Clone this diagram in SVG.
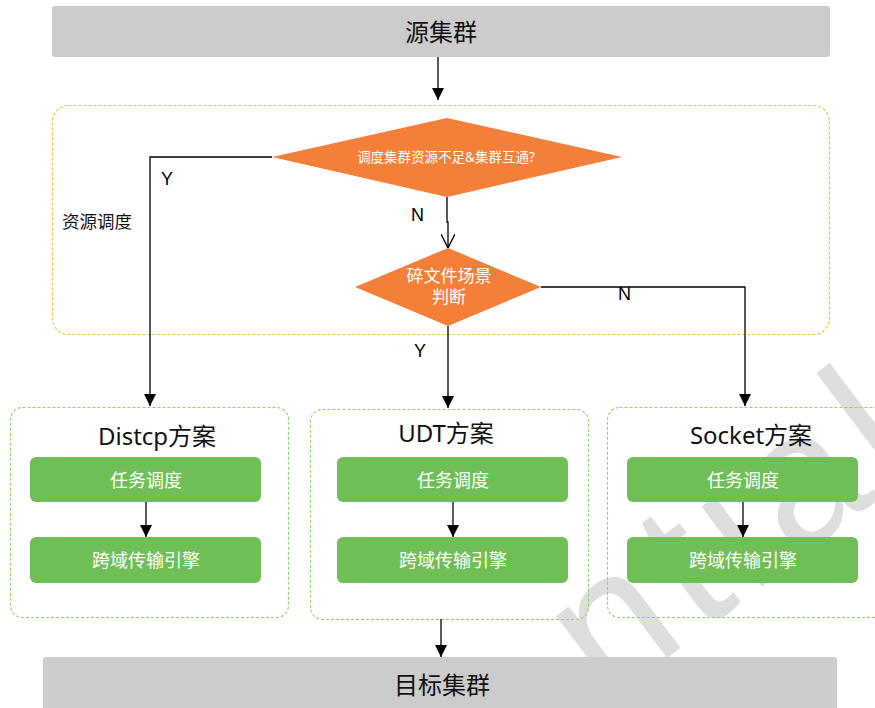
<svg xmlns="http://www.w3.org/2000/svg" width="875" height="708" viewBox="0 0 875 708">
  <defs>
    <marker id="arrow-big" viewBox="0 0 10 10" refX="10" refY="5" markerWidth="12" markerHeight="12" markerUnits="userSpaceOnUse" orient="auto">
      <path d="M0,0 L10,5 L0,10 z" fill="#000"/>
    </marker>
    <marker id="arrow-open" viewBox="0 0 12 12" refX="12" refY="6" markerWidth="14" markerHeight="14" markerUnits="userSpaceOnUse" orient="auto">
      <path d="M0,0 L12,6 L0,12" fill="none" stroke="#000" stroke-width="1.2"/>
    </marker>
  </defs>
  <style>
    .cjk { font-family: "Noto Sans", "Noto Sans CJK SC", sans-serif; }
    .cluster { fill: #cccccc; }
    .cluster-label { font-size: 24px; fill: #111; text-anchor: middle; dominant-baseline: central; }
    .zone { fill: none; stroke: #f8c23a; stroke-width: 1.2; stroke-dasharray: 3 2; }
    .decision { fill: #f37f38; }
    .decision-label { fill: #fff; text-anchor: middle; dominant-baseline: central; }
    .scheme { fill: none; stroke: #8ed36b; stroke-width: 1.1; stroke-dasharray: 3 2; }
    .scheme-title { font-size: 24px; fill: #111; text-anchor: middle; dominant-baseline: central; }
    .step { fill: #6fbf56; }
    .step-label { font-size: 18px; fill: #fff; text-anchor: middle; dominant-baseline: central; }
    .edge { fill: none; stroke: #000; stroke-width: 1.3; }
    .edge-label { font-family: "Liberation Sans", Arial, sans-serif; font-size: 18px; fill: #000; }
    .watermark { font-family: "Liberation Sans", Arial, sans-serif; font-size: 190px; fill: #dedede; }
  </style>

  <!-- background stamp -->
  <text class="watermark" x="0" y="0" letter-spacing="12" transform="translate(606,704) rotate(-37)">ntial</text>

  <!-- source cluster -->
  <g id="source-cluster">
    <rect class="cluster" x="52" y="6" width="778" height="51" rx="3"/>
    <text class="cjk cluster-label" x="441" y="31">源集群</text>
  </g>

  <!-- resource scheduling zone -->
  <g id="resource-zone">
    <rect class="zone" x="52.5" y="105.5" width="777" height="229" rx="16"/>
    <text class="cjk" x="62" y="228" font-size="17.5" fill="#111">资源调度</text>
  </g>

  <g id="decision-resources">
    <polygon class="decision" points="272,157 447,118 622,157 447,197"/>
    <text class="cjk decision-label" x="446" y="157" font-size="13.5">调度集群资源不足&amp;集群互通?</text>
  </g>

  <g id="decision-small-files">
    <polygon class="decision" points="355,287 448,248 541,287 448,326"/>
    <text class="cjk decision-label" x="449" y="275.5" font-size="17">碎文件场景</text>
    <text class="cjk decision-label" x="449" y="296.5" font-size="17">判断</text>
  </g>

  <!-- Distcp scheme -->
  <g id="scheme-distcp">
    <rect class="scheme" x="10.5" y="407.5" width="278" height="210" rx="12"/>
    <text class="cjk scheme-title" x="157" y="435">Distcp方案</text>
    <rect class="step" x="30" y="457" width="231" height="45" rx="6"/>
    <text class="cjk step-label" x="146" y="480">任务调度</text>
    <rect class="step" x="30" y="537" width="231" height="46" rx="6"/>
    <text class="cjk step-label" x="146" y="560">跨域传输引擎</text>
  </g>

  <!-- UDT scheme -->
  <g id="scheme-udt">
    <rect class="scheme" x="310.5" y="409.5" width="278" height="210" rx="12"/>
    <text class="cjk scheme-title" x="446" y="432">UDT方案</text>
    <rect class="step" x="337" y="457" width="231" height="45" rx="6"/>
    <text class="cjk step-label" x="453" y="480">任务调度</text>
    <rect class="step" x="337" y="537" width="231" height="46" rx="6"/>
    <text class="cjk step-label" x="453" y="560">跨域传输引擎</text>
  </g>

  <!-- Socket scheme -->
  <g id="scheme-socket">
    <rect class="scheme" x="607.5" y="407.5" width="290" height="210" rx="12"/>
    <text class="cjk scheme-title" x="751" y="434">Socket方案</text>
    <rect class="step" x="627" y="457" width="231" height="45" rx="6"/>
    <text class="cjk step-label" x="743" y="480">任务调度</text>
    <rect class="step" x="627" y="537" width="231" height="46" rx="6"/>
    <text class="cjk step-label" x="743" y="560">跨域传输引擎</text>
  </g>

  <!-- target cluster -->
  <g id="target-cluster">
    <rect class="cluster" x="43" y="657" width="794" height="60" rx="3"/>
    <text class="cjk cluster-label" x="442" y="684">目标集群</text>
  </g>

  <!-- connectors -->
  <g id="connectors">
    <path class="edge" d="M438,57 V100" marker-end="url(#arrow-big)"/>
    <path class="edge" d="M272,157 H150 V406" marker-end="url(#arrow-big)"/>
    <path class="edge" d="M447,197 V222 H448 V248" marker-end="url(#arrow-open)"/>
    <path class="edge" d="M541,287 H745 V406" marker-end="url(#arrow-big)"/>
    <path class="edge" d="M448,326 V408" marker-end="url(#arrow-big)"/>
    <path class="edge" d="M146,502 V537" marker-end="url(#arrow-big)"/>
    <path class="edge" d="M453,502 V537" marker-end="url(#arrow-big)"/>
    <path class="edge" d="M743,502 V537" marker-end="url(#arrow-big)"/>
    <path class="edge" d="M441,619 V657" marker-end="url(#arrow-big)"/>
    <text class="edge-label" x="161" y="185">Y</text>
    <text class="edge-label" x="411" y="221">N</text>
    <text class="edge-label" x="618" y="300">N</text>
    <text class="edge-label" x="414" y="357">Y</text>
  </g>
</svg>
